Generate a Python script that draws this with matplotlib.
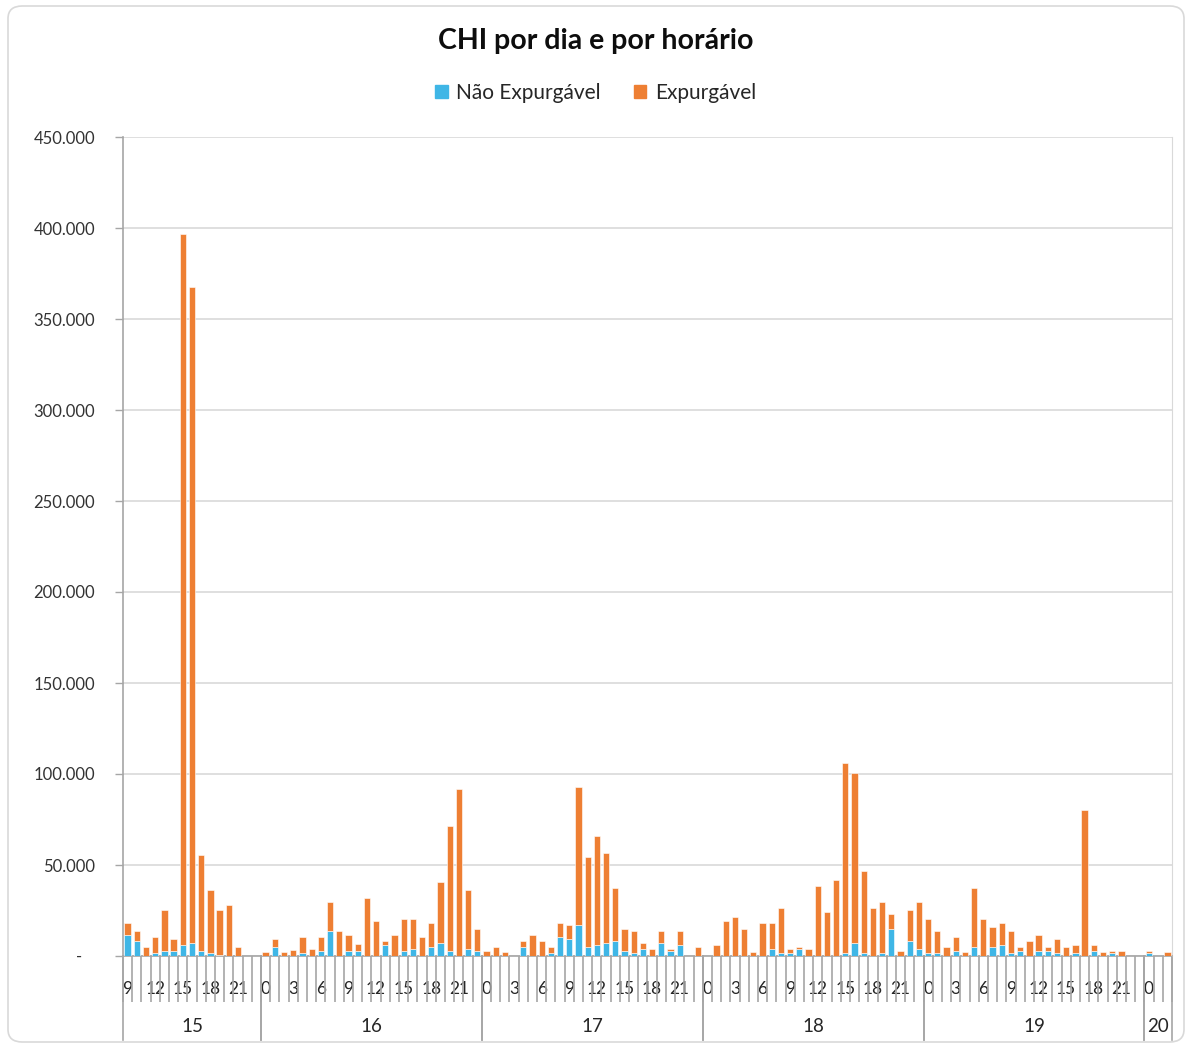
import matplotlib
matplotlib.use("Agg")
import matplotlib.pyplot as plt
import matplotlib.transforms as mtransforms
from matplotlib.patches import FancyBboxPatch, Patch
import numpy as np

plt.rcParams['font.family'] = ['Lato', 'DejaVu Sans']

# days and the hours each one covers
days = ['15', '16', '17', '18', '19', '20']
day_hours = [list(range(9, 24)), list(range(24)), list(range(24)),
             list(range(24)), list(range(24)), list(range(3))]

# total CHI per hour (in units)
total = [
    # 15: 9..23
    17900, 13500, 5100, 10400, 25400, 9300, 396500, 367700, 55400, 36200,
    25400, 27800, 5100, 0, 0,
    # 16
    2000, 9300, 2000, 3100, 10400, 4000, 10400, 29800, 13500, 11700,
    6400, 32000, 19000, 8200, 11700, 20100, 20100, 10400, 17900, 40400,
    71600, 91900, 36200, 14600,
    # 17
    2900, 5100, 2000, 0, 8200, 11700, 8200, 5100, 17900, 16800,
    93000, 54400, 66100, 56400, 37300, 14600, 13500, 7100, 4000, 13500,
    4000, 13500, 0, 5100,
    # 18
    0, 6200, 19000, 21200, 14600, 2000, 17900, 17900, 26500, 4000,
    5100, 4000, 38400, 24300, 41500, 105800, 100300, 46800, 26500, 29800,
    23200, 2900, 25400, 29800,
    # 19
    20100, 13500, 5100, 10400, 2000, 37300, 20100, 15700, 17900, 13500,
    5100, 8200, 11500, 5100, 9300, 5100, 6200, 80200, 6200, 2000,
    2900, 2900, 0, 0,
    # 20
    2900, 0, 2000,
]

nao_expurgavel = [
    # 15
    11500, 8200, 0, 1800, 2900, 2900, 6200, 7300, 2900, 1800,
    500, 0, 0, 0, 0,
    # 16
    0, 4900, 0, 0, 1800, 0, 2900, 13500, 0, 2900,
    2900, 0, 0, 6200, 0, 2900, 4000, 0, 4900, 7300,
    2900, 0, 4000, 2900,
    # 17
    0, 0, 0, 0, 5100, 0, 0, 1800, 10400, 9300,
    16800, 4900, 6200, 7100, 8200, 2900, 1800, 4000, 0, 7100,
    2900, 6200, 0, 0,
    # 18
    0, 0, 0, 0, 0, 0, 0, 4000, 1800, 1800,
    4000, 0, 0, 0, 0, 1800, 7100, 1800, 0, 1800,
    14600, 0, 8200, 4000,
    # 19
    1800, 1800, 0, 2900, 0, 4900, 0, 4900, 6200, 1800,
    2900, 0, 2900, 2900, 1800, 0, 1800, 0, 2900, 0,
    1800, 0, 0, 0,
    # 20
    1800, 0, 0,
]

hour_labels = [str(h) for hrs in day_hours for h in hrs]
y_ticks = [0, 50000, 100000, 150000, 200000, 250000, 300000, 350000, 400000, 450000]

nao = np.array(nao_expurgavel)
expurg = np.array(total) - nao
x = np.arange(len(hour_labels))

W, H = 1191, 1046
fig = plt.figure(figsize=(W / 100, H / 100), dpi=100)
fig.patches.append(FancyBboxPatch((8 / W, 4 / H), 1176 / W, 1036 / H,
                                  boxstyle="round,pad=0,rounding_size=0.012",
                                  transform=fig.transFigure, fc='white',
                                  ec='#d9d9d9', lw=1.2, zorder=-10))

ax = fig.add_axes([123 / W, 1 - 956 / H, (1172 - 123) / W, (956 - 137) / H])
blue = '#3FB6E6'
orange = '#EE7F33'
ax.bar(x, nao, width=0.68, color=blue, edgecolor='white', linewidth=0.4, zorder=3)
ax.bar(x, expurg, width=0.68, bottom=nao, color=orange, edgecolor='white',
       linewidth=0.4, zorder=3)

ax.set_xlim(-0.5, len(x) - 0.5)
ax.set_ylim(0, 450000)
ax.set_yticks(y_ticks)
ax.set_yticklabels(['-   '] + [f"{v:,.0f}".replace(',', '.') for v in y_ticks[1:]])
ax.yaxis.grid(True, color='#d9d9d9', lw=1.2, zorder=0)
ax.tick_params(axis='y', length=6, width=1, color='#a6a6a6', pad=14,
               labelsize=12, labelcolor='#333333')

# hour level: labels every 3rd category, tick lines between categories
ax.set_xticks(x[::3])
ax.set_xticklabels(hour_labels[::3])
ax.set_xticks(np.arange(len(x) + 1) - 0.5, minor=True)
ax.tick_params(axis='x', which='major', length=0, pad=18, labelsize=12.5,
               labelcolor='#262626')
ax.tick_params(axis='x', which='minor', length=33, width=1.2, color='#a6a6a6')

ax.spines['top'].set_visible(False)
ax.spines['right'].set_color('#d9d9d9')
ax.spines['left'].set_color('#a6a6a6')
ax.spines['bottom'].set_color('#a6a6a6')
ax.spines['left'].set_linewidth(1.2)
ax.spines['bottom'].set_linewidth(1.2)

# day level
trans = mtransforms.blended_transform_factory(ax.transData, fig.transFigure)
start = -0.5
for d, hrs in zip(days, day_hours):
    end = start + len(hrs)
    ax.text((start + end) / 2, 1 - 1026 / H, d, transform=trans, ha='center',
            va='center', fontsize=13.5, color='#262626')
    for b in (start, end):
        ax.plot([b, b], [1 - 956 / H, 1 - 1040 / H], transform=trans,
                color='#a6a6a6', lw=1.2, clip_on=False)
    start = end

fig.text(0.5, 1 - 41 / H, 'CHI por dia e por horário', ha='center', va='center',
         fontsize=20.5, fontweight='bold', color='#0d0d0d')
handles = [Patch(color=blue, label='Não Expurgável'),
           Patch(color=orange, label='Expurgável')]
fig.legend(handles=handles, loc='center', bbox_to_anchor=(0.5, 1 - 93 / H),
           ncol=2, frameon=False, fontsize=15, handlelength=0.6,
           handleheight=0.6, handletextpad=0.4, columnspacing=1.6,
           labelcolor='#262626')

fig.savefig('out.png', dpi=100)
